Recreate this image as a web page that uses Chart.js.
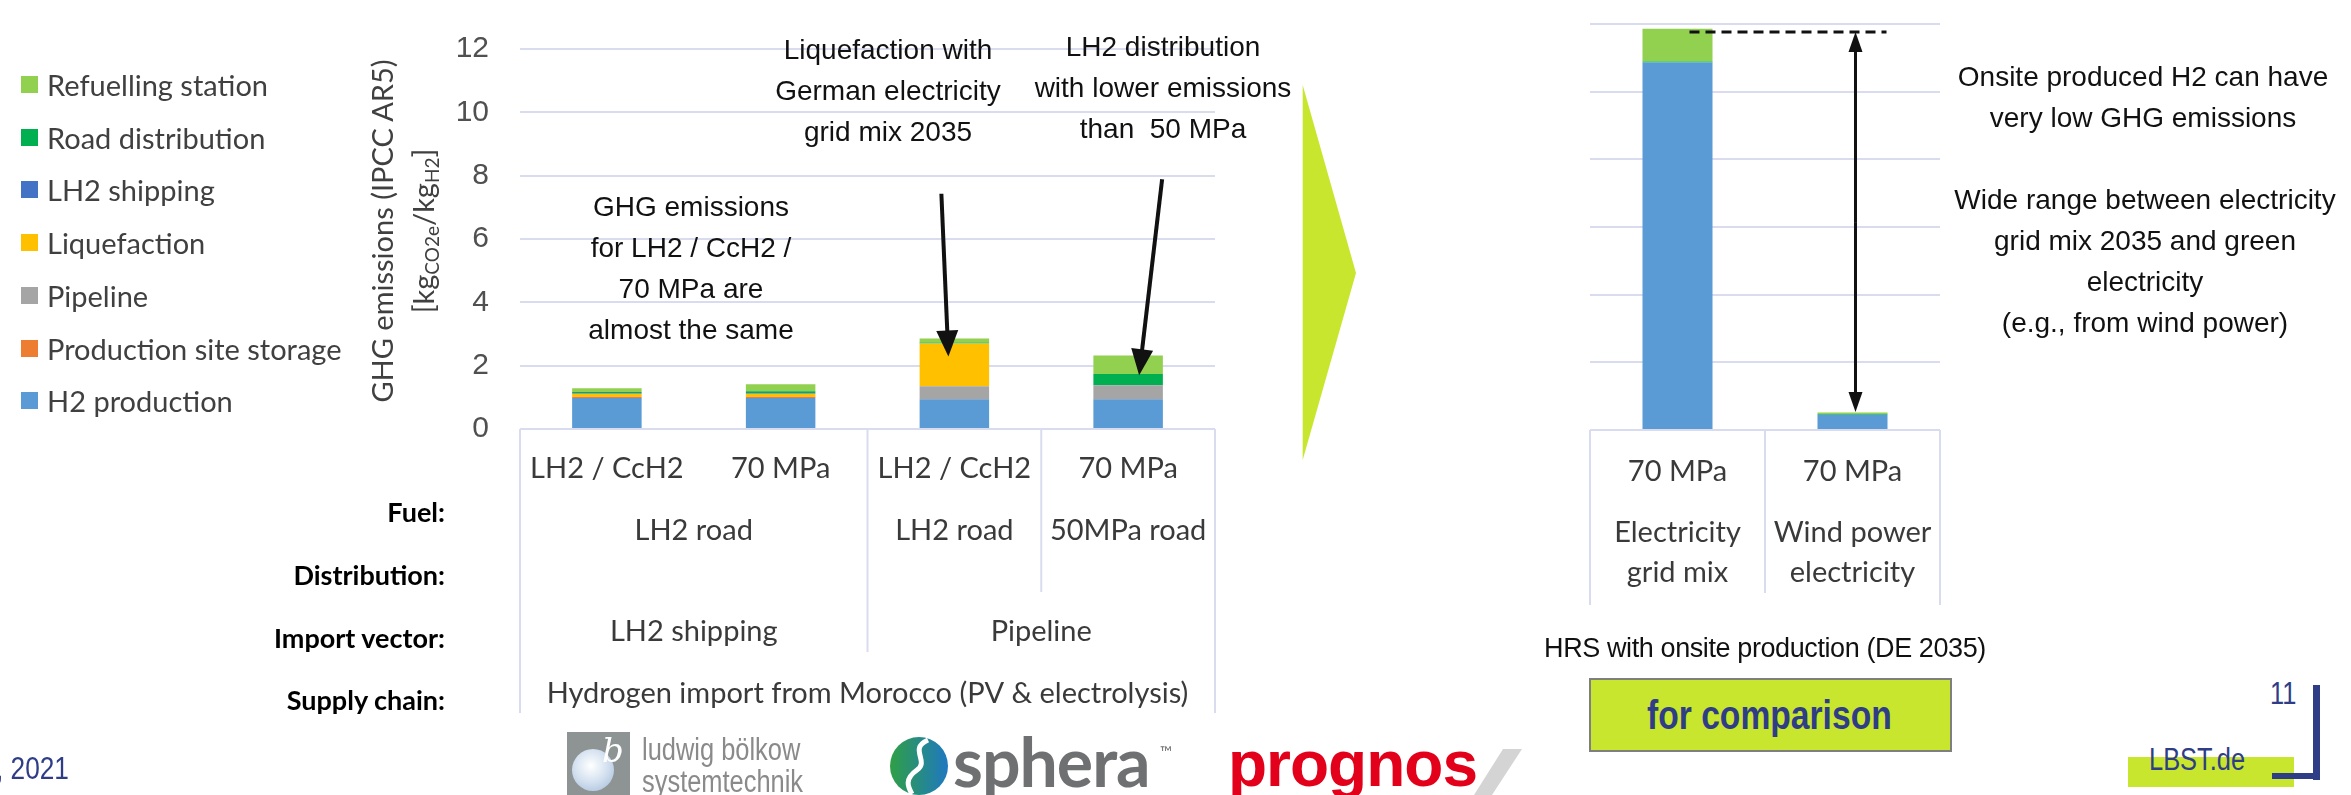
<!DOCTYPE html>
<html>
<head>
<meta charset="utf-8">
<title>GHG emissions of hydrogen import from Morocco</title>
<script src="https://cdn.jsdelivr.net/npm/chart.js@4.4.1/dist/chart.umd.min.js"></script>
<style>
  html, body { margin: 0; padding: 0; background: #fff; }
  #slide { position: relative; width: 2351px; height: 795px; overflow: hidden; font-family: Lato, 'Open Sans', sans-serif; }
  canvas { position: absolute; top: 0; }
  .abs { position: absolute; white-space: nowrap; }
  .note { position: absolute; transform: translateX(-50%); text-align: center; white-space: nowrap;
          font-family: 'Liberation Sans', Arial, sans-serif; font-size: 28px; line-height: 41px; color: #111; }
  .legend-item { position: absolute; left: 21px; height: 30px; line-height: 30px; font-size: 29px; color: #404040; }
  .legend-item i { position: absolute; left: 0; top: 6px; width: 17px; height: 17px; }
  .legend-item span { position: absolute; left: 26px; top: 0; white-space: nowrap; }
  .row-label { position: absolute; left: 0; width: 445px; text-align: right; font-weight: bold; font-size: 27px; line-height: 30px; color: #000; }
  .ytitle { position: absolute; transform: translate(-50%, -50%) rotate(-90deg); white-space: nowrap; font-size: 29px; color: #404040; line-height: 32px; }
  .ytitle sub { font-size: 19px; vertical-align: -5px; line-height: 0; }
  .narrow { font-family: 'Liberation Sans', Arial, sans-serif; transform: scaleX(0.82); transform-origin: left center; }
  .navy { color: #2F3D87; }
</style>
</head>
<body>
<div id="slide">
  <canvas id="mainChart" width="1230" height="795" style="left:0"></canvas>
  <canvas id="onsiteChart" width="380" height="795" style="left:1580px"></canvas>
  <div id="legend"></div>
</div>
<script>
// GHG emissions, kg CO2e per kg H2 (IPCC AR5)
const seriesNames = ['H2 production', 'Production site storage', 'Pipeline', 'Liquefaction', 'LH2 shipping', 'Road distribution', 'Refuelling station'];
const seriesColors = ['#5B9BD5', '#ED7D31', '#A5A5A5', '#FFC000', '#4472C4', '#00B050', '#92D050'];

// import chains (left chart)
const fuels = ['LH2 / CcH2', '70 MPa', 'LH2 / CcH2', '70 MPa'];
const h2Production = [0.98, 0.98, 0.94, 0.94];
const siteStorage = [0.04, 0.04, 0.01, 0.01];
const pipeline = [0, 0, 0.40, 0.43];
const liquefaction = [0.09, 0.09, 1.35, 0];
const lh2Shipping = [0.03, 0.03, 0, 0];
const roadDistribution = [0.03, 0.05, 0.03, 0.36];
const refuelling = [0.12, 0.22, 0.13, 0.58];

// rows below the left chart: [label, first category, last category]
const distributionRow = [['LH2 road', 0, 1], ['LH2 road', 2, 2], ['50MPa road', 3, 3]];
const importRow = [['LH2 shipping', 0, 1], ['Pipeline', 2, 3]];
const supplyRow = [['Hydrogen import from Morocco (PV & electrolysis)', 0, 3]];

// onsite production at the HRS (right chart)
const onsiteFuels = ['70 MPa', '70 MPa'];
const onsiteSources = [['Electricity', 'grid mix'], ['Wind power', 'electricity']];
const onsiteH2Production = [10.86, 0.45];
const onsiteRoad = [0.03, 0.02];
const onsiteRefuelling = [0.97, 0.05];

const yTicks = [0, 2, 4, 6, 8, 10, 12];

const gridColor = '#D9DCEF';
const labelFont = '29px Lato, "Open Sans", sans-serif';
const labelColor = '#3a3a3a';

Chart.defaults.font.family = 'Lato, "Open Sans", sans-serif';

function stackSet(label, data, color) {
    return { label, data, backgroundColor: color, borderWidth: 0, barPercentage: 0.4, categoryPercentage: 1 };
}

function yScale(showTicks, width) {
    return {
        stacked: true, min: 0, max: 12,
        afterBuildTicks: s => { s.ticks = yTicks.map(v => ({ value: v })); },
        afterFit: s => { s.width = width; },
        grid: { color: gridColor, lineWidth: 2, drawTicks: false },
        border: { display: false },
        ticks: {
            display: showTicks, padding: 31, color: '#505050',
            font: { family: "'Liberation Sans', Arial, sans-serif", size: 30 }
        }
    };
}

function arrow(ctx, x1, y1, x2, y2, head, half) {
    const a = Math.atan2(y2 - y1, x2 - x1);
    const c = Math.cos(a), s = Math.sin(a);
    ctx.beginPath();
    ctx.moveTo(x1, y1);
    ctx.lineTo(x2 - c * head * 0.8, y2 - s * head * 0.8);
    ctx.stroke();
    ctx.beginPath();
    ctx.moveTo(x2, y2);
    ctx.lineTo(x2 - head * c + half * s, y2 - head * s - half * c);
    ctx.lineTo(x2 - head * c - half * s, y2 - head * s + half * c);
    ctx.closePath();
    ctx.fill();
}

function vline(ctx, x, y1, y2) {
    ctx.beginPath();
    ctx.moveTo(x, y1);
    ctx.lineTo(x, y2);
    ctx.stroke();
}

// category table + arrows of the import chart
const importTable = {
    id: 'importTable',
    afterDraw(chart) {
        const { ctx, chartArea: area, scales: { x, y } } = chart;
        const mid = (i, j) => (x.getPixelForValue(i) + x.getPixelForValue(j)) / 2;
        const edge = i => (x.getPixelForValue(i - 1) + x.getPixelForValue(i)) / 2;
        ctx.save();
        ctx.strokeStyle = gridColor;
        ctx.lineWidth = 2;
        vline(ctx, area.left, area.bottom, 713);
        vline(ctx, area.right, area.bottom, 713);
        vline(ctx, edge(2), area.bottom, 652);
        vline(ctx, edge(3), area.bottom, 592);

        ctx.fillStyle = labelColor;
        ctx.font = labelFont;
        ctx.textAlign = 'center';
        ctx.textBaseline = 'middle';
        fuels.forEach((t, i) => ctx.fillText(t, x.getPixelForValue(i), 469));
        distributionRow.forEach(([t, a, b]) => ctx.fillText(t, mid(a, b), 531));
        importRow.forEach(([t, a, b]) => ctx.fillText(t, mid(a, b), 632));
        supplyRow.forEach(([t, a, b]) => ctx.fillText(t, mid(a, b), 694));

        ctx.strokeStyle = '#111';
        ctx.fillStyle = '#111';
        ctx.lineWidth = 4;
        arrow(ctx, x.getPixelForValue(2) - 13, y.getPixelForValue(7.43), x.getPixelForValue(2) - 6, y.getPixelForValue(2.29), 26, 11);
        arrow(ctx, x.getPixelForValue(3) + 34, y.getPixelForValue(7.89), x.getPixelForValue(3) + 11, y.getPixelForValue(1.70), 26, 11);
        ctx.restore();
    }
};

// category table + range marker of the onsite chart
const onsiteTable = {
    id: 'onsiteTable',
    afterDraw(chart) {
        const { ctx, chartArea: area, scales: { x, y } } = chart;
        ctx.save();
        ctx.strokeStyle = gridColor;
        ctx.lineWidth = 2;
        vline(ctx, area.left, area.bottom, 605);
        vline(ctx, area.right, area.bottom, 605);
        vline(ctx, (x.getPixelForValue(0) + x.getPixelForValue(1)) / 2, area.bottom, 593);

        ctx.fillStyle = labelColor;
        ctx.font = labelFont;
        ctx.textAlign = 'center';
        ctx.textBaseline = 'middle';
        onsiteFuels.forEach((t, i) => ctx.fillText(t, x.getPixelForValue(i), 472));
        onsiteSources.forEach((lines, i) => {
            lines.forEach((t, k) => ctx.fillText(t, x.getPixelForValue(i), 533 + k * 40));
        });

        const top = y.getPixelForValue(11.76);
        ctx.strokeStyle = '#111';
        ctx.fillStyle = '#111';
        ctx.lineWidth = 3;
        ctx.setLineDash([10, 6]);
        ctx.beginPath();
        ctx.moveTo(x.getPixelForValue(0) + 12, top);
        ctx.lineTo(x.getPixelForValue(1) + 34, top);
        ctx.stroke();
        ctx.setLineDash([]);
        const ax = x.getPixelForValue(1) + 3;
        const bottom = y.getPixelForValue(0.53);
        const midY = (top + bottom) / 2;
        arrow(ctx, ax, midY, ax, top, 20, 7);
        arrow(ctx, ax, midY, ax, bottom, 20, 7);
        ctx.restore();
    }
};

const importValues = [h2Production, siteStorage, pipeline, liquefaction, lh2Shipping, roadDistribution, refuelling];

new Chart(document.getElementById('mainChart'), {
    type: 'bar',
    data: {
        labels: fuels,
        datasets: seriesNames.map((n, i) => stackSet(n, importValues[i], seriesColors[i]))
    },
    options: {
        responsive: false,
        animation: false,
        layout: { padding: { left: 0, top: 24, right: 15, bottom: 366 } },
        plugins: { legend: { display: false }, tooltip: { enabled: false } },
        scales: {
            x: { stacked: true, display: false },
            y: yScale(true, 520)
        }
    },
    plugins: [importTable]
});

new Chart(document.getElementById('onsiteChart'), {
    type: 'bar',
    data: {
        labels: onsiteFuels,
        datasets: [
            stackSet(seriesNames[0], onsiteH2Production, seriesColors[0]),
            stackSet(seriesNames[5], onsiteRoad, seriesColors[5]),
            stackSet(seriesNames[6], onsiteRefuelling, seriesColors[6])
        ]
    },
    options: {
        responsive: false,
        animation: false,
        layout: { padding: { left: 0, top: 24, right: 20, bottom: 365 } },
        plugins: { legend: { display: false }, tooltip: { enabled: false } },
        scales: {
            x: { stacked: true, display: false },
            y: yScale(false, 10)
        }
    },
    plugins: [onsiteTable]
});

// legend, top entry = top of the stack
const legend = document.getElementById('legend');
seriesNames.slice().reverse().forEach((name, k) => {
    const color = seriesColors[seriesNames.length - 1 - k];
    const item = document.createElement('div');
    item.className = 'legend-item';
    item.style.top = (70 + k * 52.7) + 'px';
    item.innerHTML = '<i style="background:' + color + '"></i><span>' + name + '</span>';
    legend.appendChild(item);
});

const slide = document.getElementById('slide');
slide.insertAdjacentHTML('beforeend', `
  <div class="ytitle" style="left:382px;top:231px">GHG emissions (IPCC AR5)</div>
  <div class="ytitle" style="left:423px;top:231px">[kg<sub>CO2e</sub>/kg<sub>H2</sub>]</div>

  <div class="row-label" style="top:497px">Fuel:</div>
  <div class="row-label" style="top:560px">Distribution:</div>
  <div class="row-label" style="top:623px">Import vector:</div>
  <div class="row-label" style="top:685px">Supply chain:</div>

  <div class="note" style="left:691px;top:186px">GHG emissions<br>for LH2 / CcH2 /<br>70 MPa are<br>almost the same</div>
  <div class="note" style="left:888px;top:29px">Liquefaction with<br>German electricity<br>grid mix 2035</div>
  <div class="note" style="left:1163px;top:26px">LH2 distribution<br>with lower emissions<br>than&nbsp; 50 MPa</div>

  <svg class="abs" style="left:1300px;top:80px" width="60" height="385">
    <polygon points="2.7,5 56,193 2.7,380" fill="#C8E62E"/>
  </svg>

  <div class="note" style="left:2143px;top:56px">Onsite produced H2 can have<br>very low GHG emissions</div>
  <div class="note" style="left:2145px;top:179px">Wide range between electricity<br>grid mix 2035 and green<br>electricity<br>(e.g., from wind power)</div>

  <div class="note" style="left:1765px;top:632px;font-size:27px;line-height:32px;letter-spacing:-0.4px">HRS with onsite production (DE 2035)</div>
  <div class="abs" style="left:1589px;top:678px;width:359px;height:70px;background:#C8E62E;border:2px solid #7f7f7f"></div>
  <div class="abs narrow navy" style="left:1647px;top:680px;height:70px;line-height:70px;font-weight:bold;font-size:41px">for comparison</div>

  <div class="abs narrow navy" style="left:-4px;top:752px;font-size:32px;line-height:32px">, 2021</div>

  <div class="abs" style="left:567px;top:732px;width:63px;height:70px;background:#8e9494"></div>
  <div class="abs" style="left:572px;top:749px;width:42px;height:42px;border-radius:50%;background:radial-gradient(circle at 45% 40%, #ffffff 0%, #d7e3f1 45%, #9fb8d8 100%)"></div>
  <div class="abs" style="left:602px;top:730px;font-family:'DejaVu Serif',serif;font-style:italic;font-size:34px;color:#fff;line-height:40px">b</div>
  <div class="abs narrow" style="left:642px;top:734px;font-size:31px;line-height:32px;color:#8a8a8a">ludwig bölkow<br>systemtechnik</div>

  <svg class="abs" style="left:888px;top:735px" width="62" height="62" viewBox="0 0 62 62">
    <defs><linearGradient id="sg" x1="0" y1="0" x2="1" y2="0"><stop offset="0" stop-color="#2f9f45"/><stop offset="1" stop-color="#1f78c1"/></linearGradient></defs>
    <circle cx="31" cy="31" r="29" fill="url(#sg)"/>
    <path d="M40 5 C20 14, 42 26, 29 35 S 20 52, 24 59" stroke="#fff" stroke-width="5" fill="none"/>
  </svg>
  <div class="abs" style="left:953px;top:727px;font-family:Lato,sans-serif;font-weight:bold;font-size:68px;line-height:68px;letter-spacing:-1px;color:#6f7072">sphera</div>
  <div class="abs" style="left:1160px;top:742px;font-family:Lato,sans-serif;font-size:16px;color:#6f7072">™</div>

  <div class="abs" style="left:1228px;top:732px;font-family:'Liberation Sans',Arial,sans-serif;font-weight:bold;font-size:64px;line-height:64px;letter-spacing:-1px;color:#E2001A">prognos</div>
  <svg class="abs" style="left:1470px;top:745px" width="60" height="50">
    <polygon points="33,4 52,4 22,50 4,50" fill="#d4d4d4"/>
  </svg>

  <div class="abs narrow navy" style="left:2270px;top:679px;font-size:31px;line-height:30px">11</div>
  <div class="abs" style="left:2128px;top:757px;width:166px;height:30px;background:#C8E62E"></div>
  <div class="abs narrow navy" style="left:2149px;top:744px;font-size:31px;line-height:31px">LBST.de</div>
  <div class="abs" style="left:2313px;top:685px;width:7px;height:95px;background:#2F3D87"></div>
  <div class="abs" style="left:2272px;top:773px;width:48px;height:6px;background:#2F3D87"></div>
`);
</script>
</body>
</html>
